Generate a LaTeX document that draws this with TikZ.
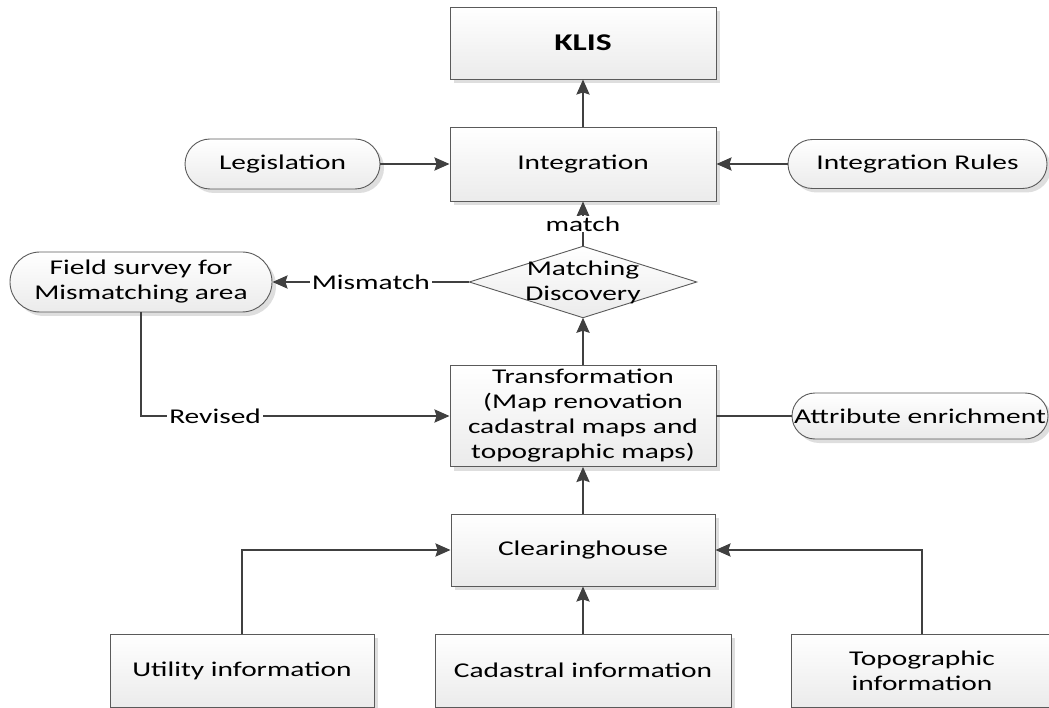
\documentclass[tikz,border=0pt]{standalone}
\usepackage{fontspec}
\setmainfont{Carlito}[FakeStretch=1.4]
\usetikzlibrary{arrows.meta,shadows}
\pgfdeclarelayer{background}
\pgfsetlayers{background,main}

\definecolor{edge}{HTML}{404040}
\definecolor{frame}{HTML}{5A5A5A}
\definecolor{shadowgray}{HTML}{DEDEDE}
\definecolor{fillbot}{HTML}{EBEBEB}

\tikzset{
  txt/.style={font=\fontsize{21}{25}\selectfont, align=center, text=black},
  base/.style={txt, draw=frame, line width=0.9pt, top color=white, bottom color=fillbot,
    inner sep=0pt,
    drop shadow={shadow xshift=4pt, shadow yshift=-4pt, fill=shadowgray, opacity=1}},
  box/.style={base, rectangle},
  stadium/.style={base, rectangle, rounded corners=#1},
  conn/.style={draw=edge, line width=2.4pt, -{Stealth[length=15pt,width=13pt,inset=2pt]}},
  plain/.style={draw=edge, line width=2.4pt},
  lbl/.style={txt, fill=white, inner xsep=2pt, inner ysep=1pt},
}

\begin{document}
\begin{tikzpicture}[x=1pt,y=-1pt]
\useasboundingbox (0,0) rectangle (1049,708);

% main column
\node[box, minimum width=266pt, minimum height=72pt,
      font=\fontsize{24}{28}\selectfont\bfseries] (klis) at (583,43) {KLIS};
\node[box, minimum width=266pt, minimum height=74pt] (integ) at (583,164) {Integration};
\node[txt, minimum width=227pt, minimum height=71pt, inner sep=0pt] (disc) at (583,282) {Matching\\Discovery};
\node[box, minimum width=266pt, minimum height=101pt] (trans) at (583,416)
  {Transformation\\(Map renovation\\cadastral maps and\\topographic maps)};
\node[box, minimum width=264pt, minimum height=72pt] (clear) at (583,550) {Clearinghouse};

% diamond outline behind its text
\begin{pgfonlayer}{background}
\path[draw=frame, line width=0.9pt, top color=white, bottom color=fillbot]
  (disc.north) -- (disc.east) -- (disc.south) -- (disc.west) -- cycle;
\end{pgfonlayer}

% side inputs
\node[stadium=25pt, minimum width=195pt, minimum height=50pt] (legis) at (282.5,164) {Legislation};
\node[stadium=24.5pt, minimum width=259pt, minimum height=49pt] (rules) at (917.5,164) {Integration Rules};
\node[stadium=30pt, minimum width=262pt, minimum height=60pt] (field) at (141,282) {Field survey for\\Mismatching area};
\node[stadium=23pt, minimum width=256pt, minimum height=46pt] (attr) at (920,416) {Attribute enrichment};

% sources
\node[box, minimum width=264pt, minimum height=73pt] (util) at (242,670.5) {Utility information};
\node[box, minimum width=296pt, minimum height=73pt] (cad) at (583,670.5) {Cadastral information};
\node[box, minimum width=262pt, minimum height=73pt] (topo) at (922,670.5) {Topographic\\information};

% connectors
\draw[conn] (integ.north) -- (klis.south);
\draw[conn] (legis.east) -- (integ.west);
\draw[conn] (rules.west) -- (integ.east);
\draw[conn] (disc.north) -- node[lbl]{match} (integ.south);
\draw[conn] (disc.west) -- node[lbl]{Mismatch} (field.east);
\draw[conn] (trans.north) -- (disc.south);
\draw[conn] (field.south) |- node[lbl, pos=0.62]{Revised} (trans.west);
\draw[plain] (trans.east) -- (attr.west);
\draw[conn] (clear.north) -- (trans.south);
\draw[conn] (util.north) |- (clear.west);
\draw[conn] (topo.north) |- (clear.east);
\draw[conn] (cad.north) -- (clear.south);
\end{tikzpicture}
\end{document}
